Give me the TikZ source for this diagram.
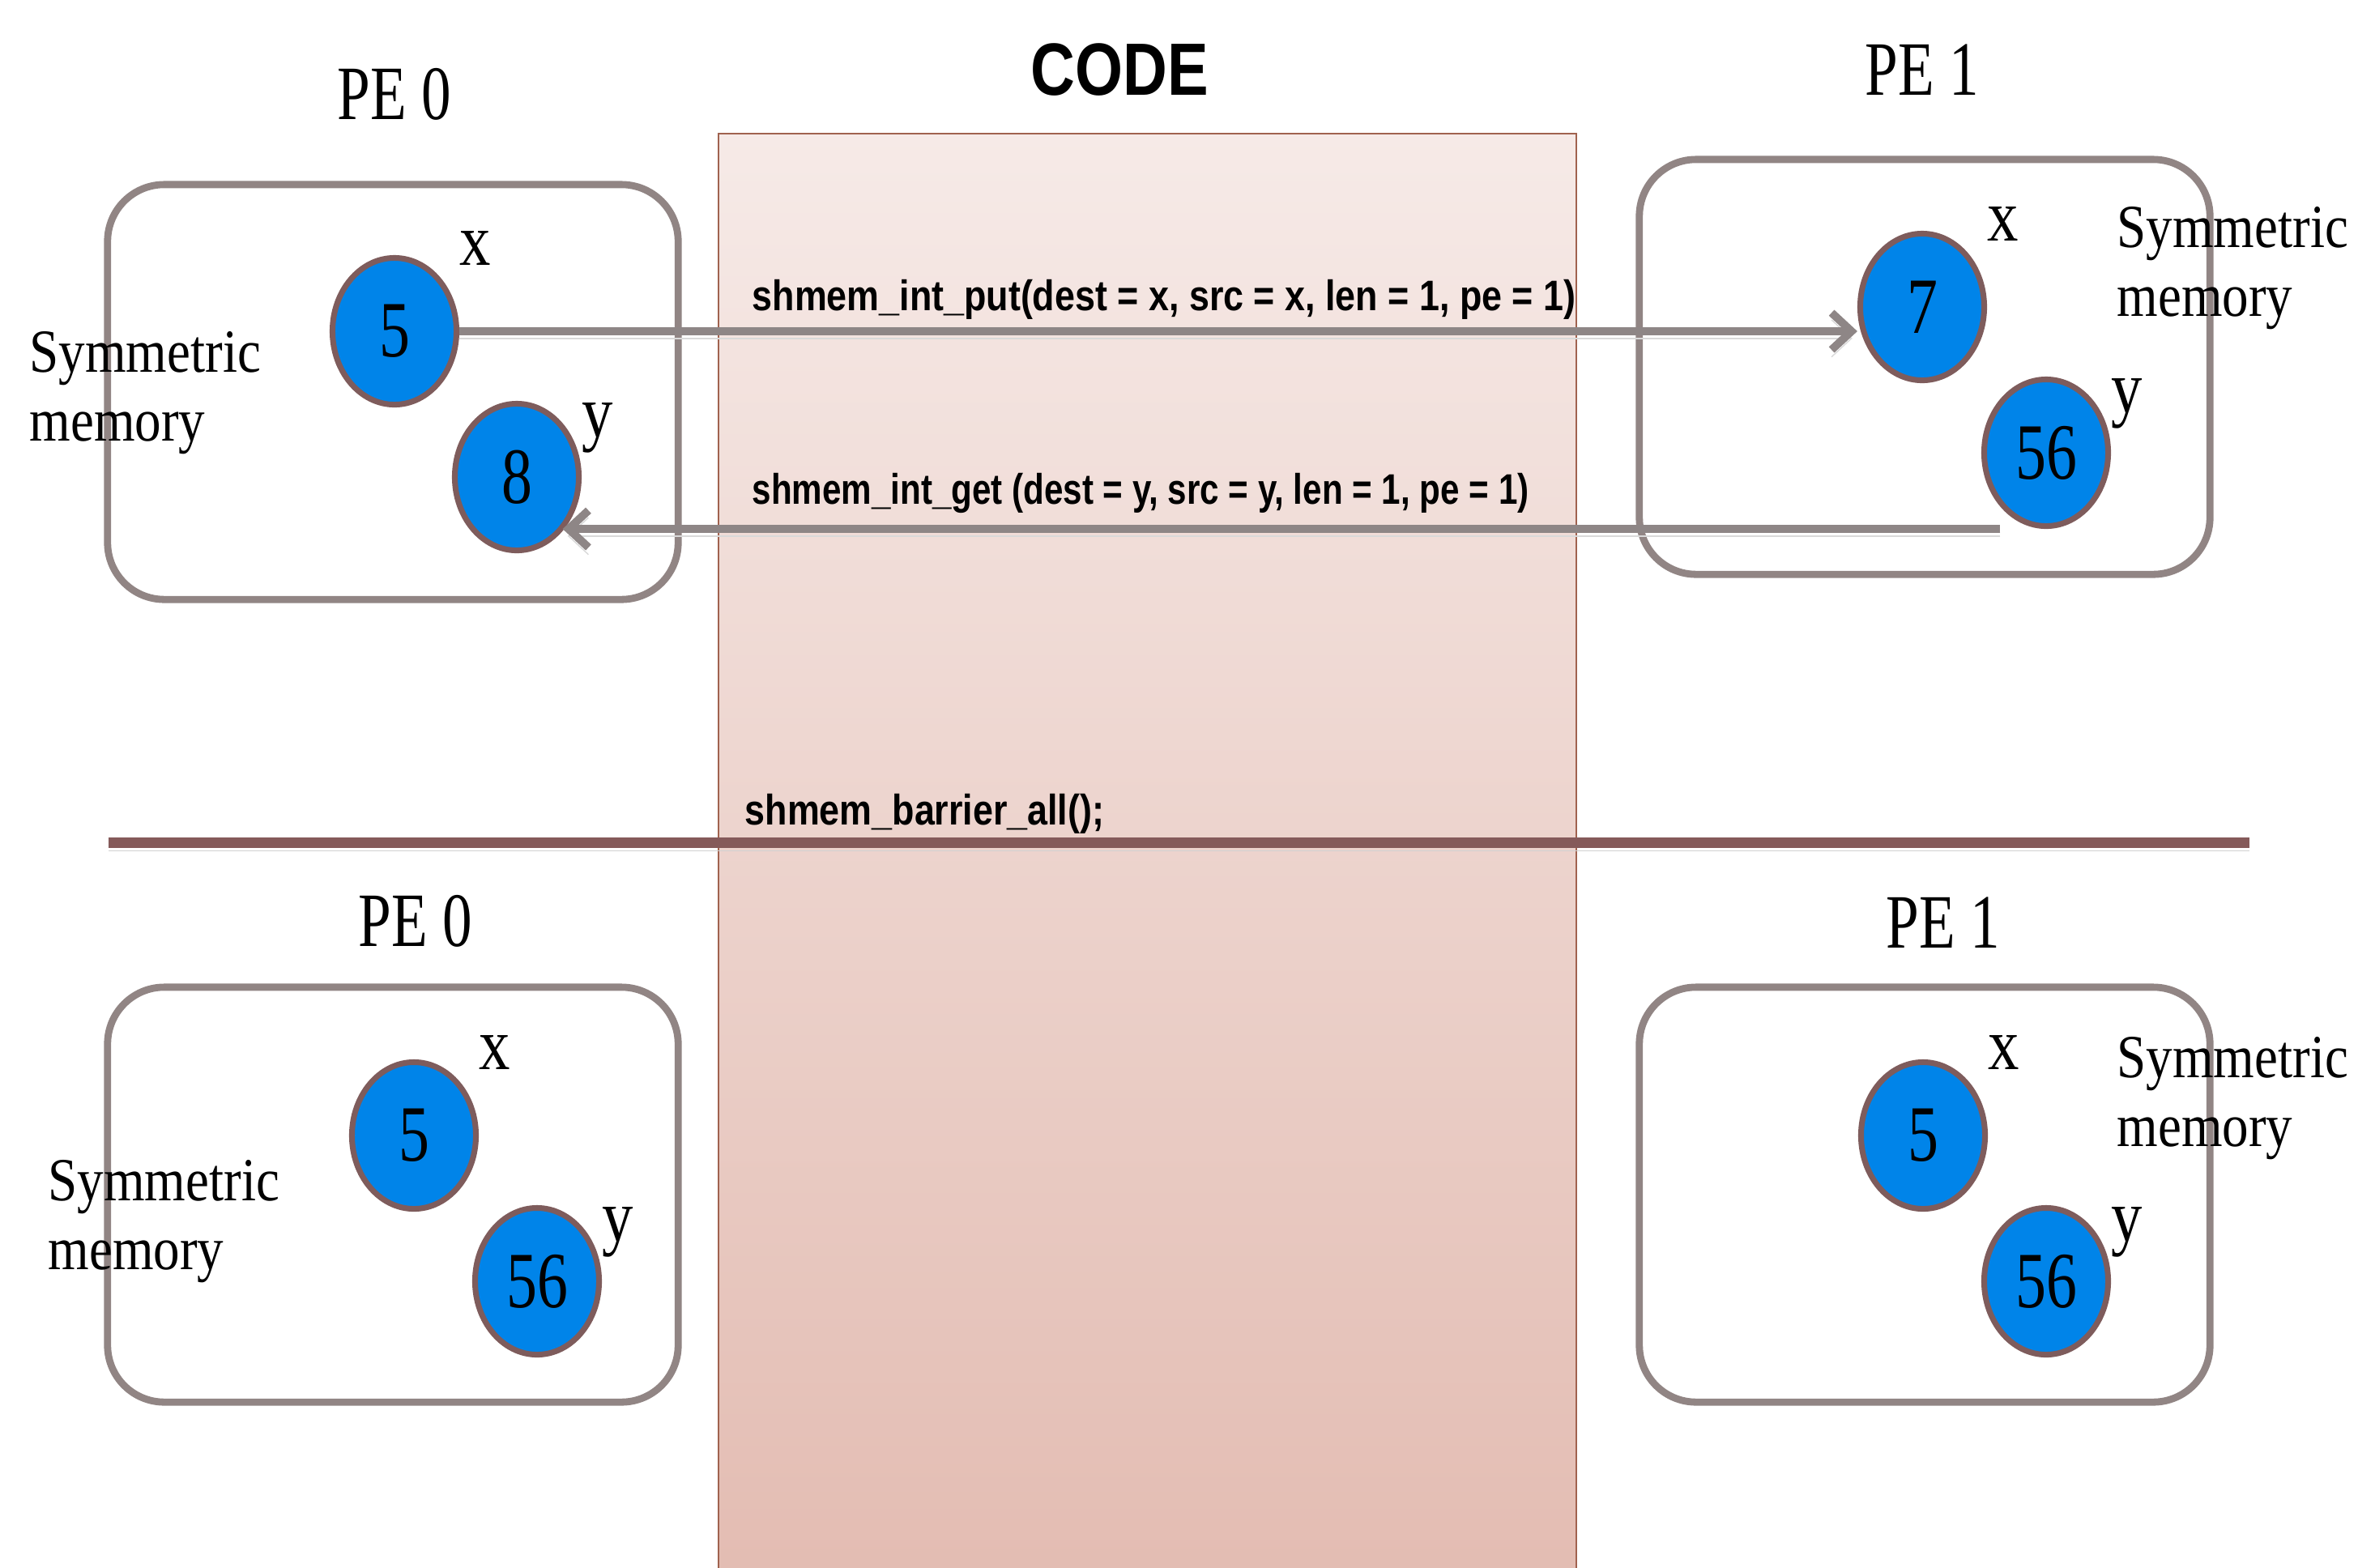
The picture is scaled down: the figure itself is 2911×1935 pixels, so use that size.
\documentclass[tikz,border=0pt]{standalone}
\usepackage{fontspec}
\usepackage{tikz}
\usetikzlibrary{shapes.geometric, arrows.meta, positioning}
\usepackage{xcolor}

\newfontfamily\pefont{Liberation Serif}[FakeStretch=0.77]
\newfontfamily\tagfont{Liberation Serif}[FakeStretch=0.84]
\newfontfamily\memfont{Liberation Serif}[FakeStretch=0.86]
\newfontfamily\codefont{Liberation Sans}[FakeStretch=0.85]
\newfontfamily\headfont{Liberation Sans}[FakeStretch=0.83]

\definecolor{boxgray}{HTML}{918584}
\definecolor{varblue}{HTML}{0084E9}
\definecolor{varedge}{HTML}{7E5C5C}
\definecolor{arrowgray}{HTML}{8E8686}
\definecolor{barrier}{HTML}{855A5A}
\definecolor{codetop}{HTML}{F6EAE7}
\definecolor{codebot}{HTML}{E3BCB2}
\definecolor{codeedge}{HTML}{A0624F}

\tikzset{
  membox/.style={draw=boxgray, line width=2.5pt, rounded corners=0.7cm,
                 minimum width=7.04cm, minimum height=5.12cm},
  var/.style={ellipse, draw=varedge, fill=varblue, line width=2pt,
              minimum width=1.53cm, minimum height=1.81cm, inner sep=0pt,
              font=\pefont\fontsize{28}{30}\selectfont},
  pe/.style={anchor=base, font=\pefont\fontsize{27}{30}\selectfont},
  tag/.style={anchor=base, inner sep=0pt, font=\tagfont\fontsize{26}{28}\selectfont},
  mem/.style={anchor=north west, inner sep=0pt, align=left,
              font=\memfont\fontsize{21.5}{24}\selectfont},
  call/.style={anchor=base west, inner sep=0pt,
               font=\codefont\bfseries\fontsize{15}{18}\selectfont},
  conn/.style={draw=arrowgray, line width=2.8pt,
               -{Straight Barb[length=7pt, width=13pt]},
               preaction={draw=black!15, transform canvas={yshift=-2.5pt}}}
}

\begin{document}
\begin{tikzpicture}[x=0.01cm, y=-0.01cm]
\useasboundingbox (0,0) rectangle (2911,1935);

% code column
\shade[top color=codetop, bottom color=codebot, draw=codeedge, line width=0.8pt]
  (887,165) rectangle (1946,1960);
\node[anchor=base, font=\headfont\bfseries\fontsize{26}{30}\selectfont] (code) at (1382,117) {CODE};

% before the barrier
\node[pe] (pe0a) at (487,147) {PE 0};
\node[pe] (pe1a) at (2373,117) {PE 1};
\node[membox] (box0a) at (485,484) {};
\node[membox] (box1a) at (2376,453) {};

\node[var] (x0a) at (487,409) {5};
\node[var] (y0a) at (638,589) {8};
\node[var] (x1a) at (2373,379) {7};
\node[var] (y1a) at (2526,559) {56};

\node[tag] (lx0a) at ([shift={(100,-82)}]x0a.center) {x};
\node[tag] (ly0a) at ([shift={(100,-50)}]y0a.center) {y};
\node[tag] (lx1a) at ([shift={(100,-82)}]x1a.center) {x};
\node[tag] (ly1a) at ([shift={(100,-50)}]y1a.center) {y};

\node[mem] (mem0a) at (36,409) {Symmetric\\memory};
\node[mem] (mem1a) at (2613,255) {Symmetric\\memory};

% put and get
\node[call] (put) at (928,383) {shmem\_int\_put(dest = x, src = x, len = 1, pe = 1)};
\draw[conn] (x0a.east) -- (x0a.east -| x1a.west);

\node[call, xscale=0.94] (get) at (928,622) {shmem\_int\_get (dest = y, src = y, len = 1, pe = 1)};
\coordinate (gs) at (y1a.south -| y1a.south west);
\draw[conn] (gs) -- (gs -| y0a.south east);

% barrier
\coordinate (bl) at (134,1040);
\coordinate (br) at (2777,1040);
\draw[barrier, line width=3.7pt, preaction={draw=black!18, transform canvas={yshift=-3pt}}] (bl) -- (br);
\node[call] (bar) at (919,1018) {shmem\_barrier\_all();};

% after the barrier
\node[pe] (pe0b) at (513,1168) {PE 0};
\node[pe] (pe1b) at (2399,1170) {PE 1};
\node[membox] (box0b) at (485,1475) {};
\node[membox] (box1b) at (2376,1475) {};

\node[var] (x0b) at (511,1402) {5};
\node[var] (y0b) at (663,1582) {56};
\node[var] (x1b) at (2374,1402) {5};
\node[var] (y1b) at (2526,1582) {56};

\node[tag] (lx0b) at ([shift={(100,-82)}]x0b.center) {x};
\node[tag] (ly0b) at ([shift={(100,-50)}]y0b.center) {y};
\node[tag] (lx1b) at ([shift={(100,-82)}]x1b.center) {x};
\node[tag] (ly1b) at ([shift={(100,-50)}]y1b.center) {y};

\node[mem] (mem0b) at (59,1432) {Symmetric\\memory};
\node[mem] (mem1b) at (2613,1280) {Symmetric\\memory};
\end{tikzpicture}
\end{document}
